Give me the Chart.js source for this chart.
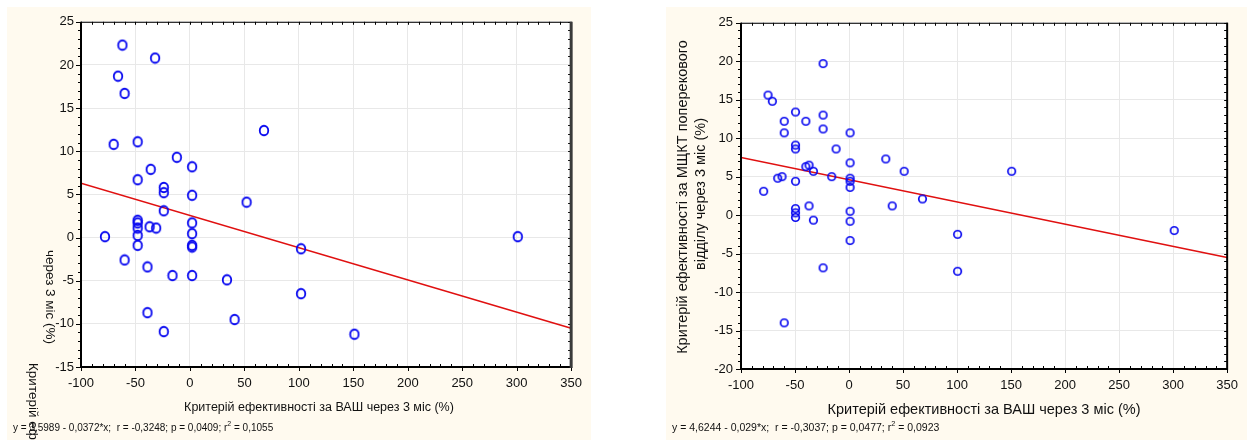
<!DOCTYPE html>
<html>
<head>
<meta charset="utf-8">
<script src="https://cdn.jsdelivr.net/npm/chart.js@4/dist/chart.umd.min.js"></script>
<style>
  html, body { margin: 0; padding: 0; background: #fff; }
  body { width: 1249px; height: 440px; position: relative; overflow: hidden; }
  canvas { position: absolute; }
  #c1 { left: 7px; top: 7px; }
  #c2 { left: 666px; top: 7px; }
</style>
</head>
<body>
<canvas id="c1" width="584" height="433"></canvas>
<canvas id="c2" width="581" height="433"></canvas>
<script>
// ── data ─────────────────────────────────────────────────────
const xTicksL = [-100, -50, 0, 50, 100, 150, 200, 250, 300, 350]
const yRangeL = [-15, 25]
const yRangeR = [-20, 25]

// left: ВАШ vs (cut) criterion
const vasL = [-62, -32, -66, -60, -70, -48, 68, -12, -36, 2, -48, -24, -24, 2, 52, -24, -48, -48, -48, -37,
              -31, 2, 2, -48, -78, -48, 2, 2, -60, -39, -16, 2, 34, 102, 102, -39, 41, -24, 151, 301]
const effL = [22.3, 20.8, 18.7, 16.7, 10.8, 11.1, 12.4, 9.3, 7.9, 8.2, 6.7, 5.8, 5.2, 4.9, 4.1, 3.1, 2.0, 1.7, 1.1, 1.25,
              1.1, 1.7, 0.45, 0.25, 0.1, -0.9, -0.9, -1.1, -2.6, -3.4, -4.4, -4.4, -4.9, -1.3, -6.5, -8.7, -9.5, -10.9, -11.2, 0.1]
const fitL = [6.3, -10.5]   // fitted line at x=-100 and x=350, as drawn

// right: ВАШ vs МЩКТ
const vasR = [-24, -75, -71, -49.5, -24, -60, -40, -24, -60, 1, -49.5, -49.5, -12, 34, 1, -37, -40, -33, 51, -16, 1, 1,
              -62, -66, -49.5, 1, -79, 68, -37, 40, -49.5, 1, -49.5, -49.5, -33, 1, 1, -24, -60, 100.5, 100.5, 301, 150.5]
const effR = [19.7, 15.6, 14.8, 13.4, 13.0, 12.2, 12.2, 11.2, 10.7, 10.7, 9.1, 8.6, 8.6, 7.3, 6.8, 6.5, 6.3, 5.7, 5.7, 5.0, 4.8, 4.4,
              5.0, 4.8, 4.4, 3.6, 3.1, 2.1, 1.2, 1.2, 0.85, 0.5, 0.3, -0.3, -0.65, -0.8, -3.3, -6.85, -14.0, -2.5, -7.3, -2.0, 5.7]
const fitR = [7.5, -5.5]

const xTitle  = 'Критерій ефективності за ВАШ через 3 міс (%)'
const yTitleR = ['Критерій ефективності за МЩКТ поперекового', 'відділу через 3 міс (%)']
const eqL = ['y = 3,5989 - 0,0372*x;  r = -0,3248; p = 0,0409; r', '2', ' = 0,1055']
const eqR = ['y = 4,6244 - 0,029*x;  r = -0,3037; p = 0,0477; r', '2', ' = 0,0923']

const FONT  = "'Liberation Sans', Arial, sans-serif"
const BLUE  = '#0808f0'
const CREAM = '#fffaef'

// ── helpers ──────────────────────────────────────────────────
function ring(w, h, lw) {
  const c = document.createElement('canvas')
  c.width = w + 4; c.height = h + 4
  const g = c.getContext('2d')
  g.strokeStyle = BLUE; g.lineWidth = lw
  g.beginPath()
  g.ellipse(c.width / 2, c.height / 2, w / 2, h / 2, 0, 0, Math.PI * 2)
  g.stroke()
  return c
}

function drawEq(ctx, parts, x, y, size) {
  ctx.font = `${size}px ${FONT}`
  ctx.textAlign = 'left'; ctx.textBaseline = 'middle'; ctx.fillStyle = '#111'
  ctx.fillText(parts[0], x, y)
  let w = ctx.measureText(parts[0]).width
  ctx.font = `${size * 0.7}px ${FONT}`
  ctx.fillText(parts[1], x + w, y - 4)
  w += ctx.measureText(parts[1]).width
  ctx.font = `${size}px ${FONT}`
  ctx.fillText(parts[2], x + w, y)
}

// frame, minor ticks and free texts
const frame = {
  id: 'frame',
  beforeDraw(chart) {
    const { ctx, chartArea: a, width, height } = chart
    ctx.save()
    ctx.fillStyle = CREAM
    ctx.fillRect(0, 0, width, height)
    ctx.fillStyle = '#fff'
    ctx.fillRect(a.left, a.top, a.right - a.left, a.bottom - a.top)
    ctx.restore()
  },
  afterDraw(chart, args, o) {
    const { ctx, chartArea: a, scales: { x, y } } = chart
    ctx.save()
    ctx.strokeStyle = '#000'
    // ticks
    ctx.lineWidth = 1
    ctx.beginPath()
    for (let v = x.min; v <= x.max; v += 10) {
      const px = Math.round(x.getPixelForValue(v)) + 0.5
      const major = v % 50 === 0
      ctx.moveTo(px, a.top); ctx.lineTo(px, a.top + 3)
      ctx.moveTo(px, a.bottom); ctx.lineTo(px, a.bottom + (major ? 4 : -3))
    }
    for (let v = y.min; v <= y.max; v += 1) {
      const py = Math.round(y.getPixelForValue(v)) + 0.5
      const major = v % 5 === 0
      ctx.moveTo(a.left, py); ctx.lineTo(a.left - (major ? 5 : 3), py)
      ctx.moveTo(a.right, py); ctx.lineTo(a.right - 3, py)
    }
    ctx.stroke()
    // border
    ctx.lineWidth = 1
    ctx.beginPath(); ctx.moveTo(a.left, a.top + 0.5); ctx.lineTo(a.right, a.top + 0.5); ctx.stroke()
    ctx.lineWidth = 2
    ctx.beginPath(); ctx.moveTo(a.left, a.top); ctx.lineTo(a.left, a.bottom); ctx.lineTo(a.right, a.bottom); ctx.stroke()
    ctx.strokeStyle = o.rightColor
    ctx.lineWidth = o.rightWidth
    ctx.beginPath(); ctx.moveTo(a.right, a.top); ctx.lineTo(a.right, a.bottom + 1); ctx.stroke()

    // texts
    ctx.fillStyle = '#111'
    ctx.font = `${o.xTitleSize}px ${FONT}`
    ctx.textAlign = 'center'; ctx.textBaseline = 'middle'
    ctx.fillText(xTitle, o.xTitlePos[0], o.xTitlePos[1])
    o.yTitles.forEach(t => {
      ctx.save()
      ctx.translate(t.x, t.y)
      ctx.rotate(t.rot)
      ctx.font = `${t.size}px ${FONT}`
      ctx.textAlign = t.align; ctx.textBaseline = 'middle'
      ctx.fillText(t.text, 0, 0)
      ctx.restore()
    })
    drawEq(ctx, o.eq, o.eqPos[0], o.eqPos[1], o.eqSize)
    ctx.restore()
  },
}

function build(id, cfg) {
  const toPts = (xs, ys) => xs.map((v, i) => ({ x: v, y: ys[i] }))
  return new Chart(document.getElementById(id), {
    type: 'scatter',
    data: {
      datasets: [
        {
          data: toPts(cfg.xs, cfg.ys),
          pointStyle: cfg.marker, pointRadius: 5, pointHoverRadius: 5,
          borderColor: BLUE, backgroundColor: 'transparent', order: 1,
        },
        {
          type: 'line',
          data: toPts([xTicksL[0], xTicksL[xTicksL.length - 1]], cfg.fit),
          borderColor: '#e01010', borderWidth: 1.6, pointRadius: 0, fill: false, order: 2,
        },
      ],
    },
    options: {
      responsive: false, animation: false, devicePixelRatio: 1,
      layout: { padding: cfg.padding },
      scales: {
        x: {
          type: 'linear', min: xTicksL[0], max: xTicksL[xTicksL.length - 1],
          afterBuildTicks: s => { s.ticks = xTicksL.map(v => ({ value: v })) },
          afterFit: s => { s.height = cfg.xH },
          grid: { color: '#e8e8e8', drawTicks: false },
          border: { display: false },
          ticks: { color: '#111', font: { size: 13, family: FONT }, padding: cfg.xPad, maxRotation: 0 },
        },
        y: {
          min: cfg.yr[0], max: cfg.yr[1],
          ticks: { stepSize: 5, color: '#111', font: { size: 13, family: FONT }, padding: cfg.yPad },
          afterFit: s => { s.width = cfg.yW },
          grid: { color: '#e8e8e8', drawTicks: false },
          border: { display: false },
        },
      },
      plugins: {
        legend: { display: false },
        tooltip: { enabled: false },
        frame: cfg.frame,
      },
    },
    plugins: [frame],
  })
}

build('c1', {
  xs: vasL, ys: effL, fit: fitL, yr: yRangeL, marker: ring(8.5, 9.5, 1.8),
  padding: { left: 0, top: 12, right: 19, bottom: 0 }, xH: 73, yW: 74, xPad: 9, yPad: 7,
  frame: {
    rightColor: '#3a3a3a', rightWidth: 3,
    xTitleSize: 12.5, xTitlePos: [312, 401],
    yTitles: [
      { text: 'через 3 міс (%)', x: 43, y: 290, rot: Math.PI / 2, size: 13.5, align: 'center' },
      { text: 'Критерій ефективності за МЩКТ поперекового відділу', x: 26, y: 356, rot: Math.PI / 2, size: 13.5, align: 'left' },
    ],
    eq: eqL, eqPos: [6, 421], eqSize: 10,
  },
})

build('c2', {
  xs: vasR, ys: effR, fit: fitR, yr: yRangeR, marker: ring(7.5, 7.5, 1.7),
  padding: { left: 0, top: 11, right: 18, bottom: 0 }, xH: 71, yW: 75, xPad: 9, yPad: 8,
  frame: {
    rightColor: '#000', rightWidth: 2,
    xTitleSize: 14.5, xTitlePos: [318, 403],
    yTitles: [
      { text: yTitleR[0], x: 17, y: 190, rot: -Math.PI / 2, size: 14.5, align: 'center' },
      { text: yTitleR[1], x: 35, y: 187, rot: -Math.PI / 2, size: 14.5, align: 'center' },
    ],
    eq: eqR, eqPos: [6, 421], eqSize: 10.5,
  },
})
</script>
</body>
</html>
